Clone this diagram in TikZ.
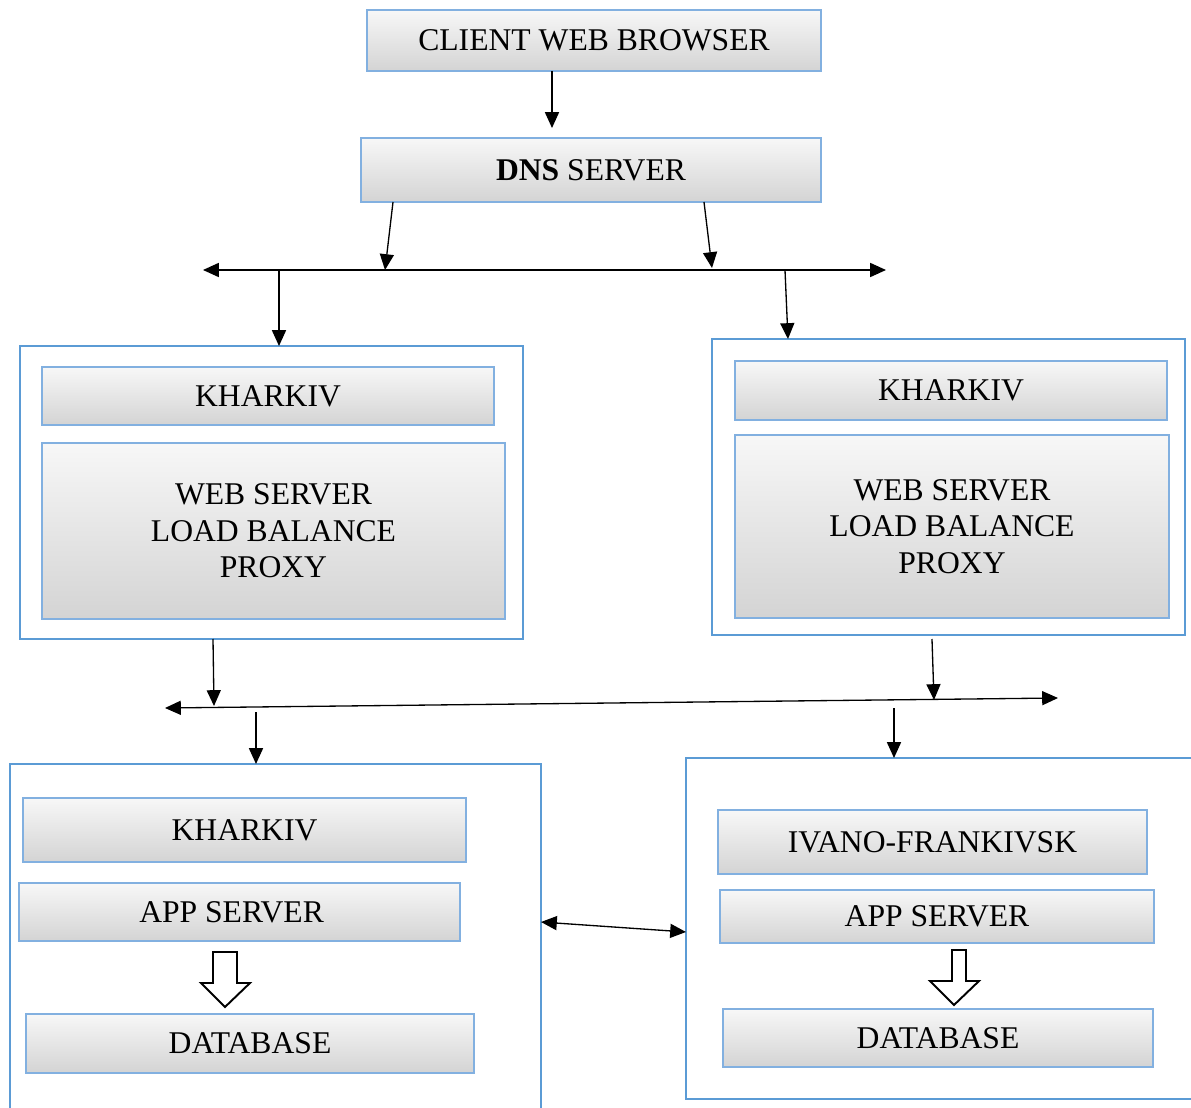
\documentclass[tikz,border=0pt]{standalone}
\usepackage{fontspec}
\setmainfont{Liberation Serif}
\usetikzlibrary{arrows.meta,calc}
\definecolor{frame}{HTML}{5B9BD5}
\definecolor{rim}{HTML}{82B0E0}
\tikzset{
  dims/.style 2 args={minimum width=#1*0.02cm, minimum height=#2*0.02cm},
  label text/.style={font=\fontsize{18}{20.7}\selectfont, align=center, text=black},
  panel/.style={draw=rim, line width=0.6pt, inner sep=0pt, outer sep=0pt,
    top color=white!97!black, bottom color=black!17, label text},
  site/.style={draw=frame, line width=1.4pt, inner sep=0pt, outer sep=0pt},
  arr/.style={line width=0.75pt, -{Triangle[length=9pt,width=8pt]}},
  bus/.style={line width=0.75pt, {Triangle[length=9pt,width=8pt]}-{Triangle[length=9pt,width=8pt]}},
  hollow/.style={draw=black, line width=1.1pt, fill=white, line join=miter},
}
\begin{document}
\begin{tikzpicture}[x=0.02cm, y=-0.02cm]
\useasboundingbox (0,0) rectangle (1191,1108);
\clip (0,0) rectangle (1191,1108);

% entry chain
\node[panel, dims={454}{61}] (client) at (594,40.5) {CLIENT WEB BROWSER};
\node[panel, dims={460}{64}] (dns) at (591,170) {\textbf{DNS} SERVER};
\draw[arr] ($(client.south west)+(185,0)$) -- ($(dns.north west)+(191,-10)$);

% upper distribution bus
\coordinate (busAw) at (203,270);
\coordinate (busAe) at (886,270);
\coordinate (busA1) at (385,270);
\coordinate (busA2) at (712,268);
\coordinate (busA3) at (279,270);
\coordinate (busA4) at (785,270);
\draw[bus] (busAw) -- (busAe);
\draw[arr] ($(dns.south west)+(32,0)$) -- (busA1);
\draw[arr] ($(dns.south west)+(343,0)$) -- (busA2);

% web tier sites
\node[site, dims={503}{293}] (webL) at (271.5,492.5) {};
\node[panel, dims={452}{58}] (webLcity) at (268,396) {KHARKIV};
\node[panel, dims={463}{176}] (webLsrv) at (273.5,531) {WEB SERVER\\LOAD BALANCE\\PROXY};

\node[site, dims={473}{296}] (webR) at (948.5,487) {};
\node[panel, dims={432}{59}] (webRcity) at (951,390.5) {KHARKIV};
\node[panel, dims={434}{183}] (webRsrv) at (952,526.5) {WEB SERVER\\LOAD BALANCE\\PROXY};

\draw[arr] (busA3) -- ($(webL.north west)+(259,0)$);
\draw[arr] (busA4) -- ($(webR.north west)+(76,0)$);

% lower distribution bus
\coordinate (busBw) at (165,708);
\coordinate (busBe) at (1058,698);
\coordinate (busB1) at (214,706);
\coordinate (busB2) at (934,700);
\coordinate (busB3) at (256,712);
\coordinate (busB4) at (894,708);
\draw[bus] (busBw) -- (busBe);
\draw[arr] ($(webL.south west)+(193,0)$) -- (busB1);
\draw[arr] ($(webR.south west)+(220,4)$) -- (busB2);

% application tier sites
\node[site, dims={531}{366}] (appL) at (275.5,947) {};
\node[panel, dims={443}{64}] (appLcity) at (244.5,830) {KHARKIV};
\node[panel, dims={441}{58}] (appLsrv) at (239.5,912) {\hspace*{-9pt}APP SERVER};
\node[panel, dims={448}{59}] (appLdb) at (250,1043.5) {DATABASE};
\draw[hollow] (213,952) -- (237,952) -- (237,983) -- (250,983) -- (225,1007)
  -- (201,983) -- (213,983) -- cycle;

\node[site, dims={524}{341}] (appR) at (948,928.5) {};
\node[panel, dims={429}{64}] (appRcity) at (932.5,842) {IVANO-FRANKIVSK};
\node[panel, dims={434}{53}] (appRsrv) at (937,916.5) {APP SERVER};
\node[panel, dims={430}{58}] (appRdb) at (938,1038) {DATABASE};
\draw[hollow] (952,950) -- (966,950) -- (966,981) -- (979,981) -- (954,1005)
  -- (930,981) -- (952,981) -- cycle;

\draw[arr] (busB3) -- ($(appL.north west)+(246,0)$);
\draw[arr] (busB4) -- ($(appR.north west)+(208,0)$);

% replication link between the two application sites
\draw[bus] ($(appL.north east)+(0,158)$) -- ($(appR.north west)+(0,174)$);
\end{tikzpicture}
\end{document}
